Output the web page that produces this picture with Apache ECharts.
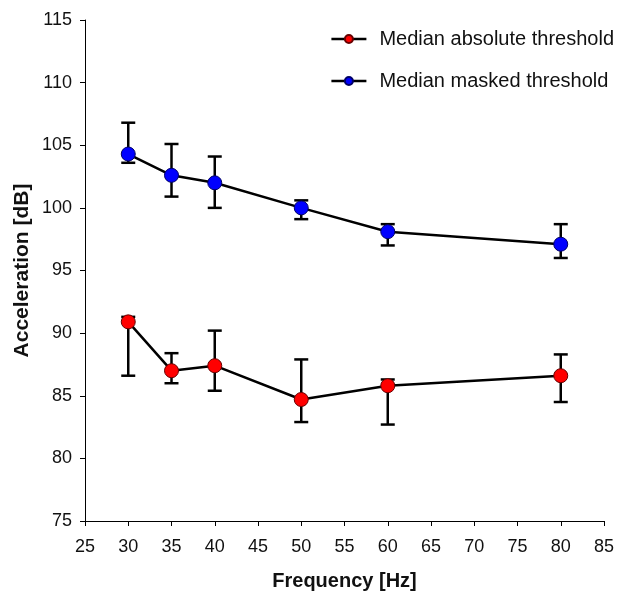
<!DOCTYPE html>
<html>
<head>
<meta charset="utf-8">
<script src="https://cdn.jsdelivr.net/npm/echarts@6/dist/echarts.min.js"></script>
<style>
  html, body { margin: 0; padding: 0; background: #fff; }
  #chart { width: 623px; height: 592px; }
</style>
</head>
<body>
<div id="chart"></div>
<script>
// frequencies [Hz]
var freqs = [30, 35, 40, 50, 60, 80];

// median absolute threshold + error bar ends
var absMedian = [90.9, 87.0, 87.4, 84.7, 85.8, 86.6];
var absLow    = [86.6, 86.0, 85.4, 82.9, 82.7, 84.5];
var absHigh   = [91.3, 88.4, 90.2, 87.9, 86.3, 88.3];

// median masked threshold + error bar ends
var maskMedian = [104.3, 102.6, 102.0, 100.0, 98.1, 97.1];
var maskLow    = [103.6, 100.9, 100.0, 99.1, 97.0, 96.0];
var maskHigh   = [106.8, 105.1, 104.1, 100.6, 98.7, 98.7];

var chart = echarts.init(document.getElementById('chart'));

function pairs(ys) {
    return freqs.map(function (f, i) { return [f, ys[i]]; });
}
function bars(lo, hi) {
    return freqs.map(function (f, i) { return [f, lo[i], hi[i]]; });
}

// error bar: vertical line + caps
function renderErr(params, api) {
    var top = api.coord([api.value(0), api.value(2)]);
    var bot = api.coord([api.value(0), api.value(1)]);
    var w = 7;
    var style = { stroke: '#000', lineWidth: 2.5 };
    return {
        type: 'group',
        children: [
            { type: 'line', shape: { x1: top[0], y1: top[1], x2: bot[0], y2: bot[1] }, style: style },
            { type: 'line', shape: { x1: top[0] - w, y1: top[1], x2: top[0] + w, y2: top[1] }, style: style },
            { type: 'line', shape: { x1: bot[0] - w, y1: bot[1], x2: bot[0] + w, y2: bot[1] }, style: style }
        ]
    };
}

var font = 'Liberation Sans, Arial, sans-serif';

var option = {
    backgroundColor: '#ffffff',
    animation: false,
    grid: { left: 85, right: 19, top: 20, bottom: 71, outerBoundsMode: 'none', containLabel: false },
    legend: {
        orient: 'vertical',
        right: 4,
        top: 24,
        itemGap: 22,
        itemWidth: 35,
        itemHeight: 10,
        lineStyle: { width: 2.5 },
        textStyle: { fontFamily: font, color: '#111', fontSize: 20, padding: [0, 0, 0, 8] },
        data: ['Median absolute threshold', 'Median masked threshold']
    },
    xAxis: {
        type: 'value',
        min: 25, max: 85, interval: 5,
        name: 'Frequency [Hz]',
        nameLocation: 'middle',
        nameGap: 50,
        nameTextStyle: { fontFamily: font, color: '#111', fontSize: 20, fontWeight: 'bold' },
        axisLine: { lineStyle: { color: '#000', width: 1 } },
        axisTick: { show: true, inside: false, length: 5, lineStyle: { color: '#000' } },
        axisLabel: { fontFamily: font, color: '#111', fontSize: 18, margin: 17 },
        splitLine: { show: false }
    },
    yAxis: {
        type: 'value',
        min: 75, max: 115, interval: 5,
        name: 'Acceleration [dB]',
        nameLocation: 'middle',
        nameGap: 52,
        nameMoveOverlap: false,
        nameRotate: 90,
        nameTextStyle: { fontFamily: font, color: '#111', fontSize: 21, fontWeight: 'bold' },
        axisLine: { show: true, lineStyle: { color: '#000', width: 1 } },
        axisTick: { show: true, inside: false, length: 5, lineStyle: { color: '#000' } },
        axisLabel: { fontFamily: font, color: '#111', fontSize: 18, margin: 13 },
        splitLine: { show: false }
    },
    series: [
        {
            type: 'custom',
            renderItem: renderErr,
            data: bars(absLow, absHigh),
            z: 1,
            silent: true
        },
        {
            type: 'custom',
            renderItem: renderErr,
            data: bars(maskLow, maskHigh),
            z: 1,
            silent: true
        },
        {
            name: 'Median absolute threshold',
            type: 'line',
            data: pairs(absMedian),
            symbol: 'circle',
            symbolSize: 14,
            z: 3,
            lineStyle: { color: '#000', width: 2.5 },
            itemStyle: { color: '#ff0000', borderColor: '#600', borderWidth: 1 }
        },
        {
            name: 'Median masked threshold',
            type: 'line',
            data: pairs(maskMedian),
            symbol: 'circle',
            symbolSize: 14,
            z: 3,
            lineStyle: { color: '#000', width: 2.5 },
            itemStyle: { color: '#0000ff', borderColor: '#006', borderWidth: 1 }
        }
    ]
};

chart.setOption(option);
</script>
</body>
</html>
